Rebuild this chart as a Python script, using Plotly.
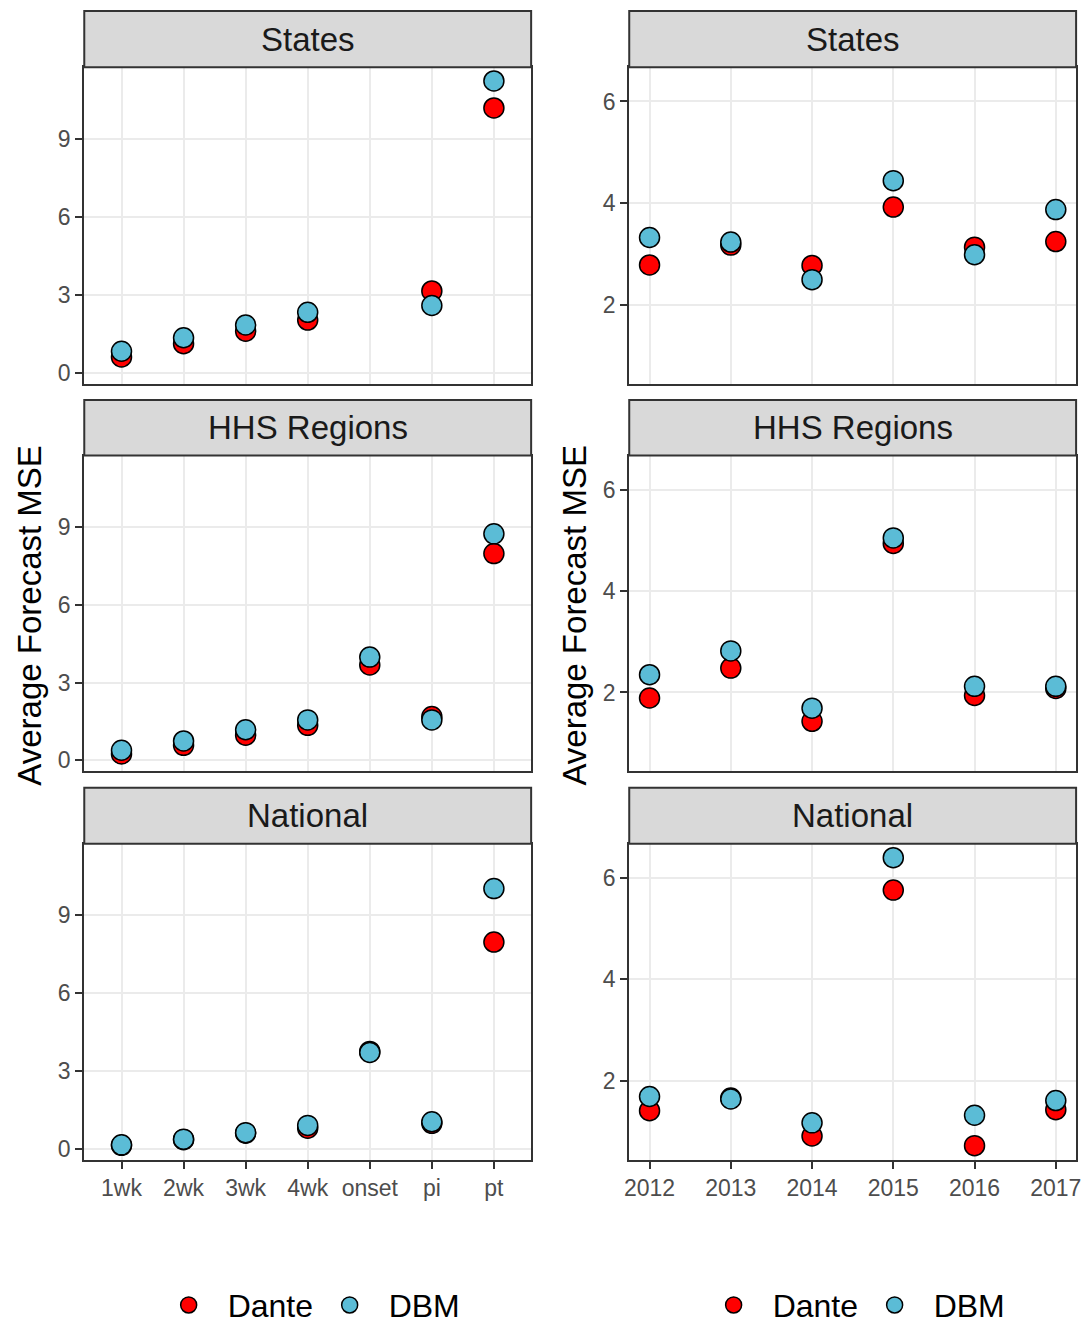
import plotly.graph_objects as go

W, H = 1092, 1333
FONT = "Liberation Sans, Arial, Helvetica, sans-serif"

targets = ["1wk", "2wk", "3wk", "4wk", "onset", "pi", "pt"]
years = [2012, 2013, 2014, 2015, 2016, 2017]
panels = ["States", "HHS Regions", "National"]
models = ["Dante", "DBM"]
model_colors = {"Dante": "#FF0000", "DBM": "#5BBCD6"}

# Left: average forecast MSE by target
states_target_dante = [0.60, 1.11, 1.59, 2.02, None, 3.14, 10.18]
states_target_dbm = [0.82, 1.34, 1.83, 2.32, None, 2.58, 11.22]
hhs_target_dante = [0.25, 0.58, 0.97, 1.35, 3.68, 1.69, 7.97]
hhs_target_dbm = [0.39, 0.75, 1.18, 1.56, 3.98, 1.56, 8.73]
nat_target_dante = [0.13, 0.35, 0.60, 0.79, 3.75, 0.98, 7.96]
nat_target_dbm = [0.15, 0.37, 0.62, 0.90, 3.71, 1.04, 10.02]

# Right: average forecast MSE by season
states_year_dante = [2.78, 3.17, 2.77, 3.92, 3.13, 3.24]
states_year_dbm = [3.32, 3.23, 2.49, 4.44, 2.98, 3.87]
hhs_year_dante = [1.89, 2.48, 1.43, 4.94, 1.94, 2.08]
hhs_year_dbm = [2.35, 2.82, 1.69, 5.05, 2.12, 2.12]
nat_year_dante = [1.41, 1.66, 0.91, 5.76, 0.72, 1.43]
nat_year_dbm = [1.69, 1.64, 1.17, 6.40, 1.32, 1.61]

left_tickvals = [0, 3, 6, 9]
right_tickvals = [2, 4, 6]

left_data = [
    {"Dante": states_target_dante, "DBM": states_target_dbm},
    {"Dante": hhs_target_dante, "DBM": hhs_target_dbm},
    {"Dante": nat_target_dante, "DBM": nat_target_dbm},
]
right_data = [
    {"Dante": states_year_dante, "DBM": states_year_dbm},
    {"Dante": hhs_year_dante, "DBM": hhs_year_dbm},
    {"Dante": nat_year_dante, "DBM": nat_year_dbm},
]

# ---- geometry (pixels) ----
rows_px = [(67.7, 386.7), (459.3, 777.7), (850.7, 1169.3)]
strip_top_px = [11.0, 403.3, 794.3]
cols_px = [(80.0, 531.0), (630.0, 1081.0)]


def px_x(v):
    return v / W


def px_y(v):
    return 1 - v / H


fig = go.Figure()
layout = dict(
    width=W, height=H, autosize=False,
    margin=dict(l=0, r=0, t=0, b=0),
    paper_bgcolor="white", plot_bgcolor="white",
    font=dict(family=FONT, color="#4D4D4D"),
    shapes=[], annotations=[],
)

AX_LINE = "#333333"
GRID = "#EBEBEB"

for c in range(2):
    for r in range(3):
        idx = c * 3 + r + 1
        xa = "x" if idx == 1 else f"x{idx}"
        ya = "y" if idx == 1 else f"y{idx}"
        xkey = "xaxis" if idx == 1 else f"xaxis{idx}"
        ykey = "yaxis" if idx == 1 else f"yaxis{idx}"
        bottom = r == 2
        data = left_data[r] if c == 0 else right_data[r]
        xs = targets if c == 0 else years
        leg = "legend" if c == 0 else "legend2"
        for m in models:
            fig.add_trace(go.Scatter(
                x=xs, y=data[m], xaxis=xa, yaxis=ya, mode="markers", name=m,
                legend=leg, legendgroup=f"{m}{c}", showlegend=(r == 0),
                marker=dict(size=20, color=model_colors[m],
                            line=dict(color="black", width=1.5)),
                cliponaxis=False,
            ))
        x0, x1 = cols_px[c]
        t0, b0 = rows_px[r]
        xaxis = dict(
            domain=[px_x(x0), px_x(x1)], anchor=ya,
            showgrid=True, gridcolor=GRID, gridwidth=2,
            showline=True, linecolor=AX_LINE, linewidth=2, mirror=True,
            zeroline=False,
            ticks="outside" if bottom else "", ticklen=7, tickwidth=2, tickcolor=AX_LINE,
            showticklabels=bottom,
            tickfont=dict(size=23, color="#4D4D4D", family=FONT),
        )
        if c == 0:
            xaxis.update(type="category", categoryorder="array", categoryarray=targets,
                         range=[-0.6, 6.6])
        else:
            xaxis.update(type="linear", range=[2011.75, 2017.25], tickvals=years)
        yaxis = dict(
            domain=[px_y(b0), px_y(t0)], anchor=xa,
            showgrid=True, gridcolor=GRID, gridwidth=2,
            showline=True, linecolor=AX_LINE, linewidth=2, mirror=True,
            zeroline=False,
            ticks="outside", ticklen=7, tickwidth=2, tickcolor=AX_LINE,
            tickfont=dict(size=23, color="#4D4D4D", family=FONT),
        )
        if c == 0:
            yaxis.update(range=[-0.42, 11.75], tickvals=left_tickvals)
        else:
            yaxis.update(range=[0.444, 6.676], tickvals=right_tickvals)
        layout[xkey] = xaxis
        layout[ykey] = yaxis

        # facet strip
        st = strip_top_px[r]
        layout["shapes"].append(dict(
            type="rect", xref="paper", yref="paper",
            x0=px_x(x0), x1=px_x(x1), y0=px_y(t0), y1=px_y(st),
            fillcolor="#D9D9D9", line=dict(color=AX_LINE, width=2), layer="above",
        ))
        layout["annotations"].append(dict(
            text=panels[r], xref="paper", yref="paper",
            x=px_x((x0 + x1) / 2), y=px_y((st + t0) / 2),
            xanchor="center", yanchor="middle", showarrow=False,
            font=dict(size=33, color="#1A1A1A", family=FONT),
        ))

# y axis titles
for xc in [25, 575]:
    layout["annotations"].append(dict(
        text="Average Forecast MSE", xref="paper", yref="paper",
        x=px_x(xc), y=px_y(620), xanchor="center", yanchor="middle",
        textangle=-90, showarrow=False,
        font=dict(size=33, color="black", family=FONT),
    ))

leg_common = dict(orientation="h", yanchor="middle", xanchor="left",
                  font=dict(size=32, color="black", family=FONT),
                  bgcolor="rgba(0,0,0,0)", itemsizing="trace", itemwidth=68,
                  entrywidth=78, entrywidthmode="pixels")
layout["legend"] = dict(leg_common, x=px_x(146), y=px_y(1316))
layout["legend2"] = dict(leg_common, x=px_x(696), y=px_y(1316))

fig.update_layout(**layout)
fig.write_html(
    "out.html",
    config={"displayModeBar": False},
    post_script=(
        "document.documentElement.style.margin='0';"
        "document.documentElement.style.overflow='hidden';"
        "document.body.style.margin='0';"
        "document.body.style.overflow='hidden';"
    ),
)
